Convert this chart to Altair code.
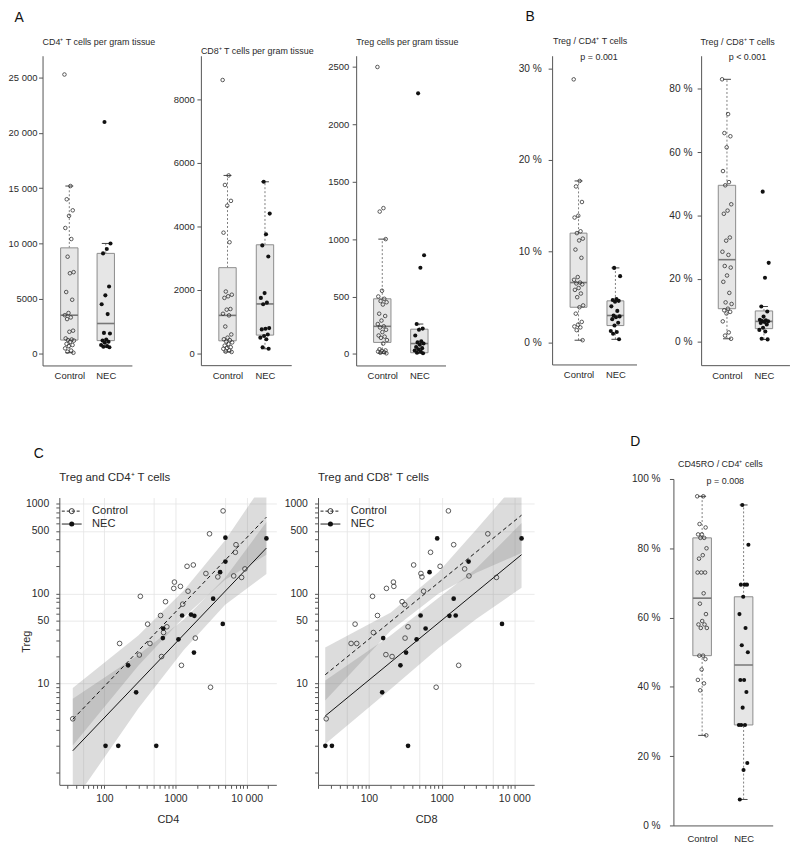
import altair as alt
import pandas as pd

FONT = "Liberation Sans"
TXT = "#2a2a2a"
AXC = "#555555"
GROUPS = ["Control", "NEC"]

# ---------------- Panel A : cells per gram tissue ----------------
cd4_ctrl = [25300, 15200, 14000, 13000, 12500, 11400, 10400, 8800, 7400, 7300, 5600, 4900,
            3700, 3500, 3300, 3150, 2100, 2000, 1400, 1300, 1250, 1200, 1100, 900, 800, 700,
            500, 300, 200, 100]
cd4_nec = [21000, 10000, 9500, 9100, 6100, 5300, 4500, 3600, 1900, 1850, 1300, 1200, 1100,
           1000, 800, 700, 650, 600]
cd4_box = {"Control": [100, 1250, 3500, 9600, 15200], "NEC": [600, 1200, 2750, 9100, 10000]}

cd8_ctrl = [8600, 5600, 5300, 4800, 4650, 3800, 3500, 1950, 1850, 1800, 1750, 1400, 1380, 1250,
            1200, 850, 600, 500, 450, 420, 380, 350, 300, 250, 200, 180, 150, 100, 60, 50]
cd8_nec = [5400, 4400, 3750, 3400, 3050, 1900, 1750, 1600, 1550, 800, 780, 760, 600, 550, 500,
           450, 200, 150]
cd8_box = {"Control": [50, 400, 1200, 2700, 5600], "NEC": [150, 580, 1560, 3420, 5400]}

treg_ctrl = [2500, 1270, 1240, 1000, 550, 500, 480, 460, 450, 430, 350, 330, 290, 260, 240, 230,
             210, 190, 160, 150, 140, 120, 90, 40, 30, 25, 20, 15, 10, 5]
treg_nec = [2270, 860, 750, 260, 220, 210, 160, 110, 100, 90, 80, 60, 50, 40, 30, 20, 10, 5]
treg_box = {"Control": [5, 100, 240, 480, 1000], "NEC": [5, 10, 90, 215, 260]}

# ---------------- Panel B : ratios (%) ----------------
r4_ctrl = [28.8, 17.7, 17.1, 15.4, 13.9, 13.7, 12.2, 12.0, 11.4, 11.2, 10.2, 9.3, 7.2, 6.9, 6.6,
           6.5, 6.4, 6.0, 5.8, 5.4, 5.0, 4.1, 3.9, 3.2, 2.3, 2.0, 1.8, 1.7, 1.4, 0.3]
r4_nec = [8.2, 7.3, 4.8, 4.7, 4.6, 4.5, 4.0, 3.5, 3.0, 2.9, 2.8, 2.6, 2.2, 1.9, 1.3, 1.2, 1.0, 0.4]
r4_box = {"Control": [0.3, 3.9, 6.6, 12.0, 17.7], "NEC": [0.4, 1.9, 3.0, 4.6, 8.2]}

r8_ctrl = [83, 72, 66, 65, 61.5, 54, 50.5, 49.5, 43.5, 41.5, 40.5, 33, 32, 28.5, 27.5, 24, 23.5,
           21, 19, 15.5, 12.5, 12, 10.5, 10, 9.5, 9, 6.5, 3, 2, 1]
r8_nec = [47.5, 25, 20.3, 11.2, 9.6, 8, 7, 6.8, 6.6, 6.5, 6.3, 6.0, 5.5, 4.5, 3.8, 3.3, 1.0, 0.8]
r8_box = {"Control": [1, 10.5, 26, 49.5, 83], "NEC": [0.8, 4.2, 6.5, 9.8, 11.2]}

# ---------------- Panel D : CD45RO / CD4 (%) ----------------
ro_ctrl = [95, 95, 87, 86, 84, 84, 83, 83, 80, 78, 77, 73, 73, 73, 67, 64, 61, 59, 58, 58, 57,
           57, 49, 49, 48, 45, 42, 41, 39, 26]
ro_nec = [92.5, 81, 69.5, 69.5, 69.5, 66, 61, 57, 52, 50, 42, 42, 38.5, 34, 29, 29, 29, 18, 16, 7.5]
ro_box = {"Control": [26, 49, 65.6, 83, 95], "NEC": [7.5, 29, 46.3, 66, 92.5]}

# ---------------- Panel C : log-log scatter ----------------
c4_ctrl_x = [36, 164, 321, 311, 406, 438, 618, 638, 680, 725, 757, 947, 968, 1175, 1265, 1214,
             1456, 1503, 1783, 1901, 2680, 3013, 3112, 3940, 4674, 6590, 6950, 7100, 8510, 9480]
c4_ctrl_y = [4, 27.7, 93, 20.6, 45.5, 27.7, 56.8, 19.8, 36.7, 81, 42.5, 114, 134, 120, 76, 15.8,
             201, 106, 208, 31.8, 167, 463, 9, 153, 834, 157, 288, 350, 151, 188]
c4_nec_x = [104, 157, 537, 216, 280, 665, 673, 1101, 1240, 1655, 1843, 1820, 3389, 4245, 4626,
            5040, 5040, 19000]
c4_nec_y = [2, 2, 2, 15.8, 7.9, 31.8, 40.7, 30.8, 56.8, 58.2, 56.3, 21.9, 87.5, 173, 45.8, 419,
            227, 411]
c4_line_x = [36, 19000]
c4_line_ctrl = [3.95, 710]
c4_line_nec = [1.76, 321]
c4_band_x = [36, 300, 1300, 5000, 19000]
c4_band_ctrl_lo = [2.02, 15.6, 54, 142, 270]
c4_band_ctrl_hi = [8.8, 34, 107, 392, 1870]
c4_band_nec_lo = [0.46, 5.2, 23.3, 75, 165]
c4_band_nec_hi = [6.7, 20.6, 50.9, 150, 625]

c8_ctrl_x = [25.8, 56.8, 67.8, 64.4, 112, 115, 131, 171, 174, 208, 217, 220, 286, 311, 314, 345,
             412, 519, 536, 565, 704, 841, 953, 1240, 1466, 1717, 2074, 2378, 4325, 5680]
c8_ctrl_y = [4, 27.7, 27.7, 45.5, 93, 36.7, 56.8, 20.8, 114, 19.8, 134, 120, 81, 75, 31.8, 42.5,
             208, 167, 153, 106, 288, 9, 201, 834, 350, 15.8, 188, 157, 463, 151]
c8_nec_x = [25.1, 30.9, 345, 152, 157, 271, 324, 453, 514, 602, 682, 869, 1280, 1466, 1562, 2350,
            6780, 12590]
c8_nec_y = [2, 2, 2, 7.9, 31.8, 15.8, 21.9, 30.8, 56.8, 40.7, 173, 411, 56.3, 87.5, 56.8, 227,
            45.8, 411]
c8_line_x = [25, 12590]
c8_line_ctrl = [12.4, 747]
c8_line_nec = [4.3, 271]
c8_band_x = [25, 200, 900, 3000, 12590]
c8_band_ctrl_lo = [6.4, 38.7, 99, 170, 283]
c8_band_ctrl_hi = [25, 61.4, 173, 516, 1970]
c8_band_nec_lo = [2.1, 8.6, 24.5, 52, 116]
c8_band_nec_hi = [10.7, 34.3, 89, 190, 610]

# tick definitions
A1_TICKS = [0, 5000, 10000, 15000, 20000, 25000]
A2_TICKS = [0, 2000, 4000, 6000, 8000]
A3_TICKS = [0, 500, 1000, 1500, 2000, 2500]
B1_TICKS = [0, 10, 20, 30]
B2_TICKS = [0, 20, 40, 60, 80]
D_TICKS = [0, 20, 40, 60, 80, 100]
MULT = [1, 2, 3, 4, 5, 6, 7, 8, 9]
DECADES = [1, 10, 100, 1000, 10000]
C_Y_LABELS = [10, 50, 100, 500, 1000]
C_X_LABELS = [100, 1000, 10000]
C_X_GRID = [50, 100, 500, 1000, 5000, 10000]


def log_ticks(lo, hi):
    return [m * d for d in DECADES for m in MULT if lo <= m * d <= hi]


NUM_LAB = "datum.value >= 10000 ? replace(format(datum.value, ','), ',', ' ') : format(datum.value, 'd')"
PCT_LAB = "datum.value + ' %'"


def note(text, x, y, size, align="left", color=TXT):
    """A piece of annotation text placed relative to the panel's plot area."""
    return alt.Chart(pd.DataFrame({"t": [text]})).mark_text(
        align=align, baseline="middle", fontSize=size, color=color
    ).encode(x=alt.value(x), y=alt.value(y), text="t:N")


def box_panel(ctrl, nec, stats, ticks, ydom, lab, width, height, xdom, boxw, notes,
              lab_size=9.5, lab_pad=2.0, xlab_pad=5.2):
    step = width / (xdom[1] - xdom[0])
    rows = []
    for gi, vals in enumerate([ctrl, nec]):
        for i, v in enumerate(vals):
            j = ((i * 0.6180339887 + 0.37 * gi) % 1.0) * 2 - 1
            rows.append({"group": GROUPS[gi], "value": v, "xj": gi + 1 + j * 5.5 / step})
    pts = pd.DataFrame(rows)
    st = pd.DataFrame([{"group": g, "pos": i + 1, "lo": stats[g][0], "q1": stats[g][1],
                        "med": stats[g][2], "q3": stats[g][3], "hi": stats[g][4]}
                       for i, g in enumerate(GROUPS)])
    xs = alt.Scale(domain=xdom, nice=False, zero=False)
    ys = alt.Scale(domain=ydom, nice=False, zero=False)
    xax = alt.Axis(values=[1, 2], labelExpr="datum.value == 1 ? 'Control' : 'NEC'", ticks=False,
                   tickSize=0, grid=False, title=None, labelPadding=xlab_pad, labelFontSize=9.5,
                   labelColor=TXT, domainColor=AXC, labelFlush=False)
    yax = alt.Axis(values=ticks, labelExpr=lab, grid=False, title=None, tickSize=4,
                   labelPadding=lab_pad, labelFontSize=lab_size, labelColor=TXT,
                   domainColor=AXC, tickColor=AXC, labelFlush=False)
    X = alt.X("pos:Q", scale=xs, axis=xax)

    def Y(f):
        return alt.Y(f, scale=ys, axis=yax)

    base = alt.Chart(st)
    wl = base.mark_rule(color="#707070", strokeDash=[2, 2], strokeWidth=0.9).encode(
        x=X, y=Y("lo:Q"), y2="q1:Q")
    wh = base.mark_rule(color="#707070", strokeDash=[2, 2], strokeWidth=0.9).encode(
        x=X, y=Y("q3:Q"), y2="hi:Q")
    bx = base.mark_bar(size=boxw, fill="#e6e6e6", stroke="#8c8c8c", strokeWidth=1).encode(
        x=X, y=Y("q1:Q"), y2="q3:Q")
    md = base.mark_tick(orient="horizontal", size=boxw, thickness=1.6, color="#777777",
                        opacity=1).encode(x=X, y=Y("med:Q"))
    cl = base.mark_tick(orient="horizontal", size=8, thickness=1, color="#444444",
                        opacity=1).encode(x=X, y=Y("lo:Q"))
    ch = base.mark_tick(orient="horizontal", size=8, thickness=1, color="#444444",
                        opacity=1).encode(x=X, y=Y("hi:Q"))
    XJ = alt.X("xj:Q", scale=xs, axis=xax)
    pc = alt.Chart(pts).transform_filter(alt.datum.group == "Control").mark_point(
        shape="circle", filled=False, size=13, color="#333333", strokeWidth=0.8, opacity=1
    ).encode(x=XJ, y=Y("value:Q"))
    pn = alt.Chart(pts).transform_filter(alt.datum.group == "NEC").mark_circle(
        size=17, color="#111111", opacity=1).encode(x=XJ, y=Y("value:Q"))
    return alt.layer(wl, wh, bx, md, cl, ch, pc, pn, *notes).properties(
        width=width, height=height)


A1 = box_panel(cd4_ctrl, cd4_nec, cd4_box, A1_TICKS, [-1050, 27000], NUM_LAB, 90, 312,
               [0.402, 2.581], 17.5,
               [note("CD4⁺ T cells per gram tissue", 0, -13.5, 9),
                note("A", -28.3, -38.3, 14, color="#111111")], lab_pad=1.7)
A2 = box_panel(cd8_ctrl, cd8_nec, cd8_box, A2_TICKS, [-365, 9363], NUM_LAB, 91, 311.7,
               [0.422, 2.568], 17.5,
               [note("CD8⁺ T cells per gram tissue", 0, -4.8, 9)], lab_pad=2.6)
A3 = box_panel(treg_ctrl, treg_nec, treg_box, A3_TICKS, [-101, 2598], NUM_LAB, 90, 312,
               [0.429, 2.571], 17.5,
               [note("Treg cells per gram tissue", 0, -14, 9)], lab_pad=3.4)
B1 = box_panel(r4_ctrl, r4_nec, r4_box, B1_TICKS, [-2.35, 31.38], PCT_LAB, 85, 311,
               [0.418, 2.437], 17,
               [note("Treg / CD4⁺ T cells", 38.3, -15, 9, align="center"),
                note("p = 0.001", 47.3, 1.5, 9, align="center"),
                note("B", -26.7, -38.8, 14, color="#111111")],
               lab_size=10.2, lab_pad=7)
B2 = box_panel(r8_ctrl, r8_nec, r8_box, B2_TICKS, [-7.34, 90.45], PCT_LAB, 89, 311.7,
               [0.436, 2.555], 17.5,
               [note("Treg / CD8⁺ T cells", 36.7, -14.3, 9, align="center"),
                note("p < 0.001", 46.7, 1.0, 9, align="center")],
               lab_size=10.2, lab_pad=5.3)
D1 = box_panel(ro_ctrl, ro_nec, ro_box, D_TICKS, [0, 100], PCT_LAB, 100, 349,
               [0.427, 2.582], 18.7,
               [note("CD45RO / CD4⁺ cells", 47.3, -15.3, 9, align="center"),
                note("p = 0.008", 52.3, 1.7, 9, align="center"),
                note("D", -43.4, -37.3, 14, color="#111111")],
               lab_size=10.2, lab_pad=9.4, xlab_pad=7.9)

C_YDOM = [0.734, 1175]
C_YTICKS = log_ticks(1, 1000)


def scatter_panel(cx, cy, nx, ny, lx, lcy, lny, bx, bclo, bchi, bnlo, bnhi, xdom, xtitle,
                  notes, width, height, ytitle):
    xticks = log_ticks(xdom[0], xdom[1])
    xs = alt.Scale(type="log", domain=xdom, nice=False)
    ys = alt.Scale(type="log", domain=C_YDOM, nice=False)
    xlab = (f"indexof({C_X_LABELS}, datum.value) < 0 ? '' : datum.value >= 10000 ? "
            "replace(format(datum.value, ','), ',', ' ') : format(datum.value, 'd')")
    ylab = f"indexof({C_Y_LABELS}, datum.value) >= 0 ? format(datum.value, 'd') : ''"
    common = dict(gridColor="#e4e4e4", gridWidth=0.8, tickSize=3.5, labelFontSize=10.5,
                  labelColor=TXT, domainColor=AXC, tickColor=AXC, titleFontSize=11,
                  titleFontWeight="normal", titleColor=TXT, labelFlush=False)
    xax = alt.Axis(values=xticks, labelExpr=xlab, title=xtitle, labelPadding=5.3,
                   titlePadding=9.3,
                   gridOpacity={"condition": {"test": f"indexof({C_X_GRID}, datum.value) >= 0",
                                              "value": 1}, "value": 0},
                   **common)
    ygrid = {"condition": {"test": f"indexof({C_Y_LABELS}, datum.value) >= 0", "value": 1},
             "value": 0}
    if ytitle:
        yax = alt.Axis(values=C_YTICKS, labelExpr=ylab, title=ytitle, labelPadding=7.2,
                       gridOpacity=ygrid, titleX=-33.4, titleY=height / 2,
                       titleBaseline="middle", titleAlign="center", titleAngle=270, **common)
    else:
        yax = alt.Axis(values=C_YTICKS, labelExpr=ylab, title=None, labelPadding=7.2,
                       gridOpacity=ygrid, **common)
    X = alt.X("x:Q", scale=xs, axis=xax)

    def Y(f):
        return alt.Y(f, scale=ys, axis=yax)

    band = pd.DataFrame({"x": bx, "clo": bclo, "chi": bchi, "nlo": bnlo, "nhi": bnhi})
    a1 = alt.Chart(band).mark_area(color="#7f7f7f", opacity=0.27, clip=True).encode(
        x=X, y=Y("clo:Q"), y2="chi:Q")
    a2 = alt.Chart(band).mark_area(color="#7f7f7f", opacity=0.27, clip=True).encode(
        x=X, y=Y("nlo:Q"), y2="nhi:Q")
    lines = pd.DataFrame({"x": lx + lx, "y": lcy + lny,
                          "group": [GROUPS[0]] * len(lx) + [GROUPS[1]] * len(lx)})
    l1 = alt.Chart(lines).transform_filter(alt.datum.group == "Control").mark_line(
        color="#111111", strokeWidth=1, strokeDash=[4, 3], clip=True).encode(x=X, y=Y("y:Q"))
    l2 = alt.Chart(lines).transform_filter(alt.datum.group == "NEC").mark_line(
        color="#111111", strokeWidth=1, clip=True).encode(x=X, y=Y("y:Q"))
    pts = pd.DataFrame({"x": cx + nx, "y": cy + ny,
                        "group": [GROUPS[0]] * len(cx) + [GROUPS[1]] * len(nx)})
    p1 = alt.Chart(pts).transform_filter(alt.datum.group == "Control").mark_point(
        shape="circle", filled=False, size=22, color="#333333", strokeWidth=0.8, opacity=1
    ).encode(x=X, y=Y("y:Q"))
    p2 = alt.Chart(pts).transform_filter(alt.datum.group == "NEC").mark_circle(
        size=22, color="#111111", opacity=1).encode(x=X, y=Y("y:Q"))
    lg = pd.DataFrame({"label": GROUPS})
    lgc = alt.Chart(lg).transform_filter(alt.datum.label == "Control")
    lgn = alt.Chart(lg).transform_filter(alt.datum.label == "NEC")
    r1 = lgc.mark_rule(color="#222222", strokeWidth=1, strokeDash=[3, 2]).encode(
        x=alt.value(2.5), x2=alt.value(22.5), y=alt.value(13.7))
    s1 = lgc.mark_point(shape="circle", filled=False, size=26, color="#222222",
                        strokeWidth=0.9, opacity=1).encode(x=alt.value(12.5), y=alt.value(13.7))
    t1 = lgc.mark_text(align="left", baseline="middle", fontSize=11.2, color=TXT).encode(
        x=alt.value(33), y=alt.value(13.7), text="label:N")
    r2 = lgn.mark_rule(color="#222222", strokeWidth=1).encode(
        x=alt.value(2.5), x2=alt.value(22.5), y=alt.value(26.7))
    s2 = lgn.mark_circle(size=26, color="#111111", opacity=1).encode(
        x=alt.value(12.5), y=alt.value(26.7))
    t2 = lgn.mark_text(align="left", baseline="middle", fontSize=11.2, color=TXT).encode(
        x=alt.value(33), y=alt.value(26.7), text="label:N")
    return alt.layer(a1, a2, l1, l2, p1, p2, r1, s1, t1, r2, s2, t2, *notes).properties(
        width=width, height=height)


C1 = scatter_panel(c4_ctrl_x, c4_ctrl_y, c4_nec_x, c4_nec_y, c4_line_x, c4_line_ctrl,
                   c4_line_nec, c4_band_x, c4_band_ctrl_lo, c4_band_ctrl_hi, c4_band_nec_lo,
                   c4_band_nec_hi, [23.3, 26200], "CD4",
                   [note("Treg and CD4⁺ T cells", 0, -19.6, 11.5),
                    note("C", -25.7, -43.6, 14, color="#111111")],
                   218.6, 289.4, "Treg")
C2 = scatter_panel(c8_ctrl_x, c8_ctrl_y, c8_nec_x, c8_nec_y, c8_line_x, c8_line_ctrl,
                   c8_line_nec, c8_band_x, c8_band_ctrl_lo, c8_band_ctrl_hi, c8_band_nec_lo,
                   c8_band_nec_hi, [19.9, 18770], "CD8",
                   [note("Treg and CD8⁺ T cells", 0, -19.6, 11.5)],
                   217.7, 289.4, None)

gA23 = alt.hconcat(A2, A3, spacing=11.4)
gA = alt.hconcat(A1, gA23, spacing=15.5)
gB = alt.hconcat(B1, B2, spacing=30.1)
row1 = alt.hconcat(gA, gB, spacing=58.3)
gC = alt.hconcat(C1, C2, spacing=5.6)
row2 = alt.hconcat(gC, D1, spacing=95.6, center=True)

chart = alt.vconcat(row1, row2, spacing=53.3, center=True).properties(
    padding={"left": -1.25, "top": -2, "right": 2, "bottom": 1}
).configure(font=FONT).configure_view(stroke="transparent")

chart.save("out.html", embed_options={"renderer": "svg", "actions": False})
